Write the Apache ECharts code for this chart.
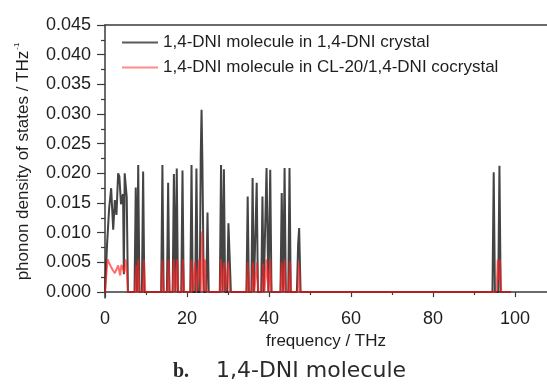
<!DOCTYPE html>
<html>
<head>
<meta charset="utf-8">
<script src="https://cdn.jsdelivr.net/npm/echarts@6/dist/echarts.min.js"></script>
<style>
html,body{margin:0;padding:0;background:#fff;}
#chart{width:547px;height:386px;}
</style>
</head>
<body>
<div id="chart"></div>
<script>
// ---- data ----
var seriesNames = ['1,4-DNI molecule in 1,4-DNI crystal', '1,4-DNI molecule in CL-20/1,4-DNI cocrystal'];
var xTickLabels = [0, 20, 40, 60, 80, 100];
var xMinorTicks = [10, 30, 50, 70, 90];
var yTickLabels = [0, 0.005, 0.010, 0.015, 0.020, 0.025, 0.030, 0.035, 0.040, 0.045];
var yMinorTicks = [0.0025, 0.0075, 0.0125, 0.0175, 0.0225, 0.0275, 0.0325, 0.0375, 0.0425];

var freqCrystal = [
  0, 0.5, 1.0, 1.5, 2.0, 2.4, 2.8, 3.2, 3.5, 3.9, 4.2, 4.4, 4.6, 4.8, 5.0, 5.3, 5.6,
  7.2, 7.5, 7.8, 8.1, 8.4,
  9.0, 9.3, 9.6,
  13.7, 14.0, 14.3,
  15.1, 15.4, 15.7,
  16.5, 16.8, 17.15, 17.5, 17.8,
  18.6, 18.9, 19.2,
  20.8, 21.1, 21.4,
  22.0, 22.3, 22.6,
  23.1, 23.35, 23.55, 23.75, 24.1,
  24.7, 25.0, 25.3,
  28.0, 28.3, 28.65, 29.0, 29.3,
  29.8, 30.1, 30.4, 30.7,
  34.5, 34.8, 35.1,
  35.7, 36.0, 36.3,
  36.7, 37.0, 37.3,
  38.1, 38.4, 38.7,
  39.1, 39.4, 39.85, 40.3, 40.6,
  42.8, 43.1, 43.45, 43.8, 44.1,
  44.7, 45.0, 45.3,
  46.8, 47.1, 47.35, 47.7,
  94.5, 94.8, 95.1, 95.9, 96.2, 96.5,
  99.0
];
var dosCrystal = [
  0, 0.008, 0.014, 0.0175, 0.0105, 0.0155, 0.013, 0.020, 0.0195, 0.0148, 0.016, 0.0165, 0.003, 0.020, 0.020, 0.016, 0,
  0, 0.0176, 0, 0.0214, 0,
  0, 0.0203, 0,
  0, 0.0214, 0,
  0, 0.0184, 0,
  0, 0.0199, 0, 0.0208, 0,
  0, 0.0205, 0,
  0, 0.0214, 0,
  0, 0.0208, 0,
  0, 0.0230, 0.0307, 0.0220, 0,
  0, 0.0134, 0,
  0, 0.0214, 0, 0.0207, 0,
  0, 0.0116, 0.0060, 0,
  0, 0.0161, 0,
  0, 0.0192, 0,
  0, 0.0184, 0,
  0, 0.0161, 0,
  0, 0.0209, 0, 0.0206, 0,
  0, 0.0167, 0, 0.0209, 0,
  0, 0.0209, 0,
  0, 0.0080, 0.0108, 0,
  0, 0.0202, 0, 0, 0.0213, 0,
  0
];

var freqCocrystal = [
  0, 0.6, 1.0, 1.5, 2.0, 2.4, 2.8, 3.2, 3.7, 4.0, 4.3, 4.7, 5.0, 5.3, 5.6,
  7.3, 7.6, 7.85, 8.1, 8.4,
  9.2, 9.5, 9.8,
  13.7, 14.0, 14.3,
  15.2, 15.5, 15.8,
  16.5, 16.8, 17.2, 17.6, 17.9,
  18.7, 19.0, 19.3,
  20.8, 21.1, 21.4,
  21.7, 22.0, 22.3,
  22.7, 23.0, 23.35, 23.7, 24.05, 24.4, 24.7,
  28.0, 28.3, 28.7, 29.1, 29.4,
  29.8, 30.1, 30.4,
  34.5, 34.8, 35.1,
  35.8, 36.1, 36.4,
  36.8, 37.1, 37.4,
  38.3, 38.6, 38.9,
  39.1, 39.4, 39.85, 40.3, 40.6,
  42.8, 43.1, 43.45, 43.8, 44.1,
  44.8, 45.1, 45.4,
  47.0, 47.3, 47.6,
  95.5, 95.8, 96.05, 96.3, 96.6,
  99.0
];
var dosCocrystal = [
  0, 0.0055, 0.0049, 0.0042, 0.0036, 0.0032, 0.0038, 0.0045, 0.0028, 0.0046, 0.0040, 0.0033, 0.0055, 0.0040, 0,
  0, 0.0045, 0, 0.0055, 0,
  0, 0.0055, 0,
  0, 0.0055, 0,
  0, 0.0055, 0,
  0, 0.0055, 0, 0.0055, 0,
  0, 0.0055, 0,
  0, 0.0055, 0,
  0, 0.0050, 0,
  0, 0.0055, 0, 0.0102, 0, 0.0055, 0,
  0, 0.0055, 0, 0.0050, 0,
  0, 0.0050, 0,
  0, 0.0050, 0,
  0, 0.0050, 0,
  0, 0.0050, 0,
  0, 0.0048, 0,
  0, 0.0055, 0, 0.0055, 0,
  0, 0.0050, 0, 0.0055, 0,
  0, 0.0052, 0,
  0, 0.0050, 0,
  0, 0.0055, 0.0020, 0.0055, 0,
  0
];

function pairs(xs, ys) { return xs.map(function (x, i) { return [x, ys[i]]; }); }

var FONT = '"Liberation Sans", Arial, sans-serif';
var axisColor = '#3a3a3a';
var chart = echarts.init(document.getElementById('chart'), null, {renderer: 'canvas'});

chart.setOption({
  animation: false,
  backgroundColor: '#ffffff',
  grid: {left: 105, right: 0, top: 25, bottom: 88, containLabel: false},
  legend: {
    orient: 'vertical', left: 117, top: 29, itemWidth: 36, itemHeight: 2, itemGap: 8,
    icon: 'rect',
    textStyle: {fontFamily: FONT, fontSize: 17, color: '#1e1e1e'},
    data: [
      {name: seriesNames[0], itemStyle: {color: '#5a5a5a'}},
      {name: seriesNames[1], itemStyle: {color: '#ff8a8a'}}
    ]
  },
  xAxis: [{
    type: 'value', min: 0, max: 107.8, position: 'bottom',
    name: 'frequency / THz', nameLocation: 'middle', nameGap: 32,
    nameTextStyle: {fontFamily: FONT, fontSize: 17, color: '#1e1e1e'},
    axisLine: {show: true, lineStyle: {color: axisColor, width: 1.5}},
    axisTick: {show: true, inside: false, length: 5, customValues: xTickLabels, lineStyle: {color: axisColor, width: 1.2}},
    axisLabel: {show: true, margin: 12, customValues: xTickLabels, fontFamily: FONT, fontSize: 18, color: '#1e1e1e'},
    splitLine: {show: false}
  }, {
    type: 'value', min: 0, max: 107.8, position: 'bottom',
    axisLine: {show: false},
    axisTick: {show: true, length: 3, customValues: xMinorTicks, lineStyle: {color: axisColor, width: 1.2}},
    axisLabel: {show: false}, splitLine: {show: false}
  }, {
    type: 'value', min: 0, max: 107.8, position: 'top',
    axisLine: {show: true, lineStyle: {color: axisColor, width: 1.5}},
    axisTick: {show: false}, axisLabel: {show: false}, splitLine: {show: false}
  }],
  yAxis: [{
    type: 'value', min: -0.001, max: 0.045, position: 'left',
    name: '{a|phonon density of states / THz}{s|-1}', nameLocation: 'middle', nameGap: 72,
    nameTextStyle: {
      fontFamily: FONT, color: '#1e1e1e',
      rich: {
        a: {fontFamily: FONT, fontSize: 17, color: '#1e1e1e', lineHeight: 20},
        s: {fontFamily: FONT, fontSize: 8, color: '#1e1e1e', verticalAlign: 'top', lineHeight: 8, padding: [0, 0, 0, 1]}
      }
    },
    axisLine: {show: true, lineStyle: {color: axisColor, width: 1.5}},
    axisTick: {show: true, length: 8, customValues: yTickLabels, lineStyle: {color: axisColor, width: 1.2}},
    axisLabel: {show: true, margin: 14, customValues: yTickLabels, fontFamily: FONT, fontSize: 18, color: '#1e1e1e',
      formatter: function (v) { return v.toFixed(3); }},
    splitLine: {show: false}
  }, {
    type: 'value', min: -0.001, max: 0.045, position: 'left',
    axisLine: {show: false},
    axisTick: {show: true, length: 4, customValues: yMinorTicks, lineStyle: {color: axisColor, width: 1.2}},
    axisLabel: {show: false}, splitLine: {show: false}
  }],
  series: [{
    name: seriesNames[0], type: 'line', xAxisIndex: 0, yAxisIndex: 0,
    data: pairs(freqCrystal, dosCrystal),
    symbol: 'none', showSymbol: false, smooth: false,
    lineStyle: {color: 'rgba(15,15,15,0.78)', width: 2},
    z: 2
  }, {
    name: seriesNames[1], type: 'line', xAxisIndex: 0, yAxisIndex: 0,
    data: pairs(freqCocrystal, dosCocrystal),
    symbol: 'none', showSymbol: false, smooth: false,
    lineStyle: {color: 'rgba(255,30,30,0.65)', width: 2},
    z: 3
  }],
  graphic: [{
    type: 'text', left: 173, top: 362,
    style: {text: 'b.', font: 'bold 20px "Liberation Serif", serif', fill: '#2a2a2a'}
  }, {
    type: 'text', left: 216, top: 360,
    style: {text: '1,4-DNI molecule', font: '22px "DejaVu Sans", sans-serif', fill: '#2a2a2a'}
  }]
});
</script>
</body>
</html>
